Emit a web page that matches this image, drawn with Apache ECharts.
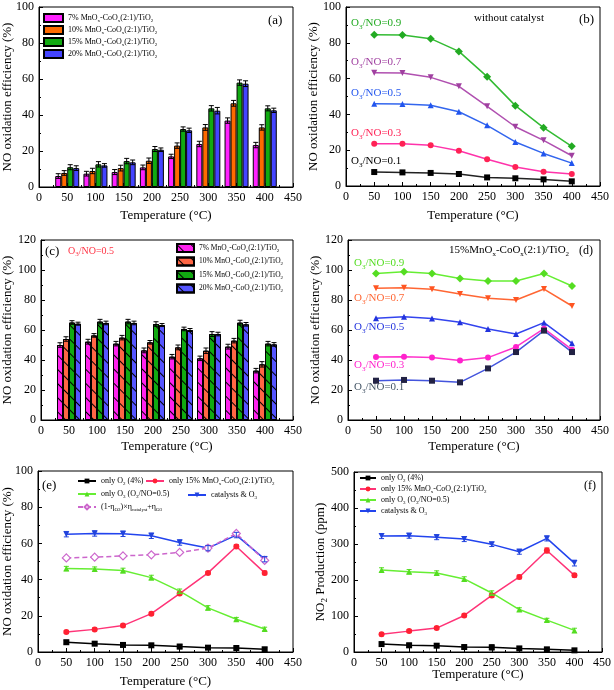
<!DOCTYPE html>
<html>
<head>
<meta charset="utf-8">
<script src="https://cdn.jsdelivr.net/npm/echarts@6/dist/echarts.min.js"></script>
<style>
html,body{margin:0;padding:0;background:#fff;}
#c{width:614px;height:690px;}
</style>
</head>
<body>
<div id="c"></div>
<script>
// ---------- data ----------
const temps = [50, 100, 150, 200, 250, 300, 350, 400];
const xTicks = [0, 50, 100, 150, 200, 250, 300, 350, 400, 450];

// (a) NO oxidation efficiency, catalysts only
const a7  = [6.1, 7.4, 8.3, 10.9, 17.0, 23.9, 36.9, 23.3];
const a10 = [7.8, 8.9, 10.5, 14.6, 23.0, 33.1, 46.5, 33.1];
const a15 = [11.0, 12.6, 14.4, 21.1, 32.2, 43.7, 58.0, 43.7];
const a20 = [10.5, 12.0, 13.7, 20.7, 31.5, 42.4, 57.4, 42.6];
const aErr7  = [1.3, 1.3, 1.4, 1.3, 1.2, 1.5, 1.5, 1.5];
const aErr10 = [1.3, 1.5, 1.6, 1.5, 1.5, 1.6, 1.6, 1.5];
const aErr15 = [1.4, 1.5, 1.5, 1.4, 1.2, 1.5, 1.5, 1.4];
const aErr20 = [1.3, 1.0, 1.3, 1.0, 1.2, 1.8, 1.6, 1.2];

// (b) without catalyst
const b09 = [84.5, 84.4, 82.3, 75.2, 61.1, 44.9, 32.6, 22.2];
const b07 = [63.3, 63.1, 60.7, 55.7, 44.5, 33.1, 25.5, 16.9];
const b05 = [46.0, 45.8, 45.1, 41.5, 33.9, 24.6, 18.2, 12.8];
const b03 = [23.6, 23.6, 22.7, 19.7, 14.9, 10.6, 8.0, 6.7];
const b01 = [7.8, 7.6, 7.3, 6.7, 4.8, 4.3, 3.7, 2.6];

// (c) O3/NO = 0.5
const c7  = [50.0, 52.2, 50.9, 46.4, 42.2, 41.1, 48.9, 32.9];
const c10 = [54.0, 56.4, 54.9, 51.8, 48.4, 46.2, 52.9, 37.1];
const c15 = [65.0, 65.6, 65.6, 64.0, 60.7, 57.3, 64.9, 50.9];
const c20 = [64.2, 64.7, 64.7, 63.3, 60.0, 57.3, 63.8, 50.4];
const cErr7  = [1.5, 1.6, 1.5, 1.6, 1.5, 1.5, 1.6, 1.5];
const cErr10 = [1.5, 1.2, 1.5, 1.2, 1.6, 1.8, 1.5, 1.8];
const cErr15 = [1.2, 1.5, 1.5, 1.5, 1.2, 1.6, 1.6, 1.5];
const cErr20 = [1.0, 1.2, 1.2, 1.0, 1.0, 1.2, 1.2, 1.2];

// (d) 15%MnOx-CoOx(2:1)/TiO2
const d09 = [97.6, 98.9, 97.6, 94.4, 92.7, 92.7, 97.6, 89.3];
const d07 = [87.8, 88.2, 87.1, 84.0, 81.1, 80.0, 87.3, 76.0];
const d05 = [67.8, 68.9, 67.6, 65.1, 60.7, 57.3, 64.9, 51.1];
const d03 = [42.0, 42.2, 41.6, 39.6, 41.6, 48.7, 60.9, 46.9];
const d01 = [26.2, 26.7, 26.2, 25.1, 34.4, 45.3, 59.6, 45.3];

// (e) NO oxidation efficiency comparison
const eO2   = [5.4, 4.6, 3.9, 3.7, 3.0, 2.4, 2.2, 1.5];
const eCat  = [11.1, 12.5, 14.6, 21.2, 32.3, 43.7, 58.3, 43.7];
const eO3   = [46.1, 45.8, 45.0, 41.1, 33.6, 24.4, 18.1, 12.7];
const eBoth = [65.1, 65.5, 65.3, 64.2, 60.5, 57.4, 64.6, 51.3];
const eCalc = [52.0, 52.4, 53.1, 53.7, 55.0, 57.4, 65.5, 50.6];
const eErrO2   = [1.0, 1.0, 1.0, 1.0, 1.2, 1.0, 1.0, 1.0];
const eErrCat  = [0.8, 0.8, 0.8, 0.8, 0.8, 0.8, 1.0, 1.0];
const eErrO3   = [1.2, 1.2, 1.3, 1.3, 1.2, 1.2, 1.0, 1.0];
const eErrBoth = [1.5, 1.5, 1.5, 1.5, 1.5, 1.5, 1.5, 1.5];

// (f) NO2 production (ppm)
const fO2   = [22, 18.5, 17.5, 13.8, 12.9, 10, 7.4, 4.6];
const fCat  = [49, 58, 66.4, 101.5, 157, 208.5, 282, 213];
const fO3   = [228, 223, 219.5, 203, 164, 118, 88.6, 60];
const fBoth = [322, 323, 319, 313.7, 299, 278.6, 315.5, 247];
const fErrO2   = [5, 6, 5, 5, 7, 5, 4, 3];
const fErrCat  = [4, 4, 4, 4, 5, 5, 7, 5];
const fErrO3   = [6, 6, 6, 6, 6, 5, 5, 6];
const fErrBoth = [7, 7, 7, 7, 6, 7, 7, 8];

// ---------- helpers ----------
const FF = '"Liberation Serif", "Times New Roman", serif';

function richFor(F, color) {
  color = color || '#000';
  return {
    n: { fontFamily: FF, fontSize: F, lineHeight: Math.round(F * 1.3), color: color, fill: color, verticalAlign: 'middle' },
    s: { fontFamily: FF, fontSize: Math.max(5, Math.round(F * 0.68)), color: color, fill: color, verticalAlign: 'bottom' }
  };
}
// "MnO_x-CoO_x" -> rich tokens; _{..} for multi-char subscripts
function rt(str) {
  str = str.replace(/\s+$/, '');
  let out = '', buf = '', i = 0;
  while (i < str.length) {
    if (str[i] === '_') {
      if (buf) { out += '{n|' + buf + '}'; buf = ''; }
      let sub;
      if (str[i + 1] === '{') { const j = str.indexOf('}', i); sub = str.slice(i + 2, j); i = j + 1; }
      else { sub = str[i + 1]; i += 2; }
      out += '{s|' + sub + '}';
    } else { buf += str[i]; i++; }
  }
  if (buf) out += '{n|' + buf + '}';
  return out;
}

const grids = [
  { left: 39,  top: 7,   width: 254, height: 180 },
  { left: 346, top: 7,   width: 254, height: 179 },
  { left: 41,  top: 240, width: 252, height: 180 },
  { left: 348, top: 240, width: 252, height: 180 },
  { left: 36,  top: 471, width: 257, height: 181 },
  { left: 354, top: 472, width: 250, height: 180 }
].map(g => Object.assign({ show: true, borderColor: '#000', borderWidth: 1, backgroundColor: 'transparent' }, g));

function xAx(i, gap) {
  return {
    gridIndex: i, type: 'value', min: xTicks[0], max: xTicks[xTicks.length - 1], interval: 50,
    name: 'Temperature (°C)', nameLocation: 'middle', nameGap: gap, nameMoveOverlap: false,
    nameTextStyle: { fontFamily: FF, fontSize: 13, color: '#000' },
    axisLine: { onZero: false, lineStyle: { color: '#000', width: 1 } },
    axisTick: { inside: true, length: 4, lineStyle: { color: '#000' } },
    minorTick: { show: true, splitNumber: 2, length: 2, lineStyle: { color: '#000' } },
    axisLabel: { fontFamily: FF, fontSize: 12, color: '#000', margin: 5, hideOverlap: false },
    splitLine: { show: false }, minorSplitLine: { show: false }
  };
}
function yAx(i, max, interval, name, gap) {
  return {
    gridIndex: i, type: 'value', min: 0, max: max, interval: interval,
    name: rt(name), nameLocation: 'middle', nameGap: gap, nameMoveOverlap: false,
    nameTextStyle: { fontFamily: FF, fontSize: 13, color: '#000', rich: richFor(13) },
    axisLine: { onZero: false, lineStyle: { color: '#000', width: 1 } },
    axisTick: { inside: true, length: 4, lineStyle: { color: '#000' } },
    minorTick: { show: true, splitNumber: 2, length: 2, lineStyle: { color: '#000' } },
    axisLabel: { fontFamily: FF, fontSize: 12, color: '#000', margin: 5 },
    splitLine: { show: false }, minorSplitLine: { show: false }
  };
}

const BW = 6;
const hatch = { symbol: 'rect', symbolSize: 1, color: '#000', dashArrayX: [1, 0], dashArrayY: [1, 9], rotation: Math.PI / 4 };

function barS(name, gi, vals, color, decal) {
  const st = { color: color, borderColor: '#000', borderWidth: 1 };
  if (decal) st.decal = decal;
  return {
    type: 'bar', name: name, xAxisIndex: gi, yAxisIndex: gi,
    data: temps.map((t, k) => [t, vals[k]]),
    barWidth: BW, barGap: '0%', itemStyle: st, z: 2, animation: false
  };
}
function lineS(name, gi, vals, lineColor, symColor, symbol, opts) {
  opts = opts || {};
  return {
    type: 'line', name: name, xAxisIndex: gi, yAxisIndex: gi,
    data: temps.map((t, k) => [t, vals[k]]),
    symbol: symbol, symbolSize: opts.size || 6, symbolRotate: opts.rotate || 0,
    lineStyle: { color: lineColor, width: 1.5, type: opts.dash ? [5, 3] : 'solid' },
    itemStyle: { color: opts.hollow ? '#fff' : symColor, borderColor: symColor, borderWidth: opts.hollow ? 1.2 : 0 },
    z: 3, animation: false
  };
}
function errS(gi, vals, errs, offset, color, cap) {
  return {
    type: 'custom', xAxisIndex: gi, yAxisIndex: gi, silent: true, z: 5, animation: false,
    data: temps.map((t, k) => [t, vals[k], errs[k]]),
    encode: { x: 0, y: 1 },
    renderItem: function (p, api) {
      const x = api.value(0), y = api.value(1), e = api.value(2);
      const top = api.coord([x, y + e]), bot = api.coord([x, y - e]);
      const cx = top[0] + offset;
      const st = { stroke: color, lineWidth: 1 };
      return {
        type: 'group', children: [
          { type: 'line', shape: { x1: cx, y1: top[1], x2: cx, y2: bot[1] }, style: st },
          { type: 'line', shape: { x1: cx - cap, y1: top[1], x2: cx + cap, y2: top[1] }, style: st },
          { type: 'line', shape: { x1: cx - cap, y1: bot[1], x2: cx + cap, y2: bot[1] }, style: st }
        ]
      };
    }
  };
}

// names
const nA = ['7% MnO_x-CoO_x(2:1)/TiO_2', '10% MnO_x-CoO_x(2:1)/TiO_2', '15% MnO_x-CoO_x(2:1)/TiO_2', '20% MnO_x-CoO_x(2:1)/TiO_2'];
const nC = nA.map(s => s + ' ');
const nE = ['only O_2 (4%)', 'only 15% MnO_x-CoO_x(2:1)/TiO_2', 'only O_3 (O_3/NO=0.5)', 'catalysts & O_3', '(1-η_{O3})×η_{catalyst}+η_{O3}'];
const nF = nE.slice(0, 4).map(s => s + ' ');

const aCol = ['#ff22ff', '#ff6a00', '#11aa11', '#4444ff'];
const cCol = ['#ff22ee', '#ff6644', '#11aa11', '#5555ff'];
const offs = [-1.5 * BW, -0.5 * BW, 0.5 * BW, 1.5 * BW];

const series = [];
// (a)
[a7, a10, a15, a20].forEach((v, k) => series.push(barS(nA[k], 0, v, aCol[k])));
[aErr7, aErr10, aErr15, aErr20].forEach((e, k) => series.push(errS(0, [a7, a10, a15, a20][k], e, offs[k], '#000', 2.5)));
// (b)
series.push(lineS('b09', 1, b09, '#33bb33', '#22aa22', 'diamond', { size: 8 }));
series.push(lineS('b07', 1, b07, '#b050b0', '#a040a0', 'triangle', { rotate: 180 }));
series.push(lineS('b05', 1, b05, '#3366ee', '#2255ee', 'triangle'));
series.push(lineS('b03', 1, b03, '#ff33aa', '#ff2255', 'circle'));
series.push(lineS('b01', 1, b01, '#222222', '#000000', 'rect'));
// (c)
[c7, c10, c15, c20].forEach((v, k) => series.push(barS(nC[k], 2, v, cCol[k], hatch)));
[cErr7, cErr10, cErr15, cErr20].forEach((e, k) => series.push(errS(2, [c7, c10, c15, c20][k], e, offs[k], '#000', 2.5)));
// (d)
series.push(lineS('d09', 3, d09, '#66ee33', '#55dd22', 'diamond', { size: 8 }));
series.push(lineS('d07', 3, d07, '#ff6633', '#ff5522', 'triangle', { rotate: 180 }));
series.push(lineS('d05', 3, d05, '#3344ee', '#2233dd', 'triangle'));
series.push(lineS('d03', 3, d03, '#ff33cc', '#ff22cc', 'circle'));
series.push(lineS('d01', 3, d01, '#4455dd', '#222244', 'rect'));
// (e)
series.push(lineS(nE[0], 4, eO2, '#000000', '#000000', 'rect'));
series.push(lineS(nE[1], 4, eCat, '#ff3377', '#ff2233', 'circle'));
series.push(lineS(nE[2], 4, eO3, '#66ee33', '#55dd22', 'triangle'));
series.push(lineS(nE[3], 4, eBoth, '#2244ee', '#2244dd', 'triangle', { rotate: 180 }));
series.push(lineS(nE[4], 4, eCalc, '#cc66cc', '#cc66cc', 'diamond', { size: 8, dash: true, hollow: true }));
series.push(errS(4, eO2, eErrO2, 0, '#000000', 2.5));
series.push(errS(4, eCat, eErrCat, 0, '#ff2233', 2.5));
series.push(errS(4, eO3, eErrO3, 0, '#55dd22', 2.5));
series.push(errS(4, eBoth, eErrBoth, 0, '#2244dd', 2.5));
// (f)
series.push(lineS(nF[0], 5, fO2, '#000000', '#000000', 'rect'));
series.push(lineS(nF[1], 5, fCat, '#ff3377', '#ff2233', 'circle'));
series.push(lineS(nF[2], 5, fO3, '#66ee33', '#55dd22', 'triangle'));
series.push(lineS(nF[3], 5, fBoth, '#2244ee', '#2244dd', 'triangle', { rotate: 180 }));
series.push(errS(5, fO2, fErrO2, 0, '#000000', 2.5));
series.push(errS(5, fCat, fErrCat, 0, '#ff2233', 2.5));
series.push(errS(5, fO3, fErrO3, 0, '#55dd22', 2.5));
series.push(errS(5, fBoth, fErrBoth, 0, '#2244dd', 2.5));

function legend(names, left, top, F, iw, ih, gap) {
  return {
    data: names, left: left, top: top, orient: 'vertical', padding: 0,
    itemWidth: iw, itemHeight: ih, itemGap: gap, selectedMode: false,
    formatter: n => rt(n),
    textStyle: { fontFamily: FF, fontSize: F, color: '#000', rich: richFor(F) }
  };
}

const texts = [
  { l: 268, t: 14, s: '(a)', f: 13, c: '#000' },
  { l: 474, t: 13, s: 'without catalyst', f: 11, c: '#000' },
  { l: 579, t: 13, s: '(b)', f: 13, c: '#000' },
  { l: 351, t: 18, s: 'O_3/NO=0.9', f: 11, c: '#22aa22' },
  { l: 351, t: 57, s: 'O_3/NO=0.7', f: 11, c: '#a040a0' },
  { l: 351, t: 88, s: 'O_3/NO=0.5', f: 11, c: '#2255ee' },
  { l: 351, t: 128, s: 'O_3/NO=0.3', f: 11, c: '#ff2255' },
  { l: 351, t: 156, s: 'O_3/NO=0.1', f: 11, c: '#000' },
  { l: 45, t: 245, s: '(c)', f: 13, c: '#000' },
  { l: 68, t: 246, s: 'O_3/NO=0.5', f: 10, c: '#ff3344' },
  { l: 449, t: 245, s: '15%MnO_x-CoO_x(2:1)/TiO_2', f: 11, c: '#000' },
  { l: 579, t: 245, s: '(d)', f: 12, c: '#000' },
  { l: 354, t: 258, s: 'O_3/NO=0.9', f: 11, c: '#55dd22' },
  { l: 354, t: 293, s: 'O_3/NO=0.7', f: 11, c: '#ff6633' },
  { l: 354, t: 322, s: 'O_3/NO=0.5', f: 11, c: '#2233dd' },
  { l: 354, t: 360, s: 'O_3/NO=0.3', f: 11, c: '#ff22cc' },
  { l: 354, t: 382, s: 'O_3/NO=0.1', f: 11, c: '#445566' },
  { l: 42, t: 479, s: '(e)', f: 13, c: '#000' },
  { l: 584, t: 480, s: '(f)', f: 12, c: '#000' }
];

const option = {
  backgroundColor: '#fff',
  animation: false,
  grid: grids,
  xAxis: [xAx(0, 22), xAx(1, 23), xAx(2, 20), xAx(3, 20), xAx(4, 23), xAx(5, 16)],
  yAxis: [
    yAx(0, 100, 20, 'NO oxidation efficiency (%)', 23),
    yAx(1, 100, 20, 'NO oxidation efficiency (%)', 24),
    yAx(2, 120, 20, 'NO oxidation efficiency (%)', 25),
    yAx(3, 120, 20, 'NO oxidation efficiency (%)', 24),
    yAx(4, 100, 20, 'NO oxidation efficiency (%)', 22),
    yAx(5, 500, 100, 'NO_2 Production (ppm)', 25)
  ],
  legend: [
    Object.assign(legend(nA, 43, 13, 8, 19, 8, 2), { icon: 'rect' }),
    Object.assign(legend(nC, 176, 243, 7.5, 17, 8, 3.5), { icon: 'rect' }),
    legend([nE[0], nE[2], nE[4]], 77, 477, 8, 18, 6, 4),
    legend([nE[1]], 145, 477, 8, 18, 6, 4),
    legend([nE[3]], 187, 491, 8, 18, 6, 4),
    legend(nF, 359, 474, 8, 16, 6, 2)
  ],
  graphic: texts.map(o => ({
    type: 'text', left: o.l, top: o.t, silent: true,
    style: { text: rt(o.s), fontFamily: FF, fontSize: o.f, fill: o.c, rich: richFor(o.f, o.c) }
  })),
  series: series
};

const chart = echarts.init(document.getElementById('c'), null, { renderer: 'canvas' });
chart.setOption(option);
</script>
</body>
</html>
